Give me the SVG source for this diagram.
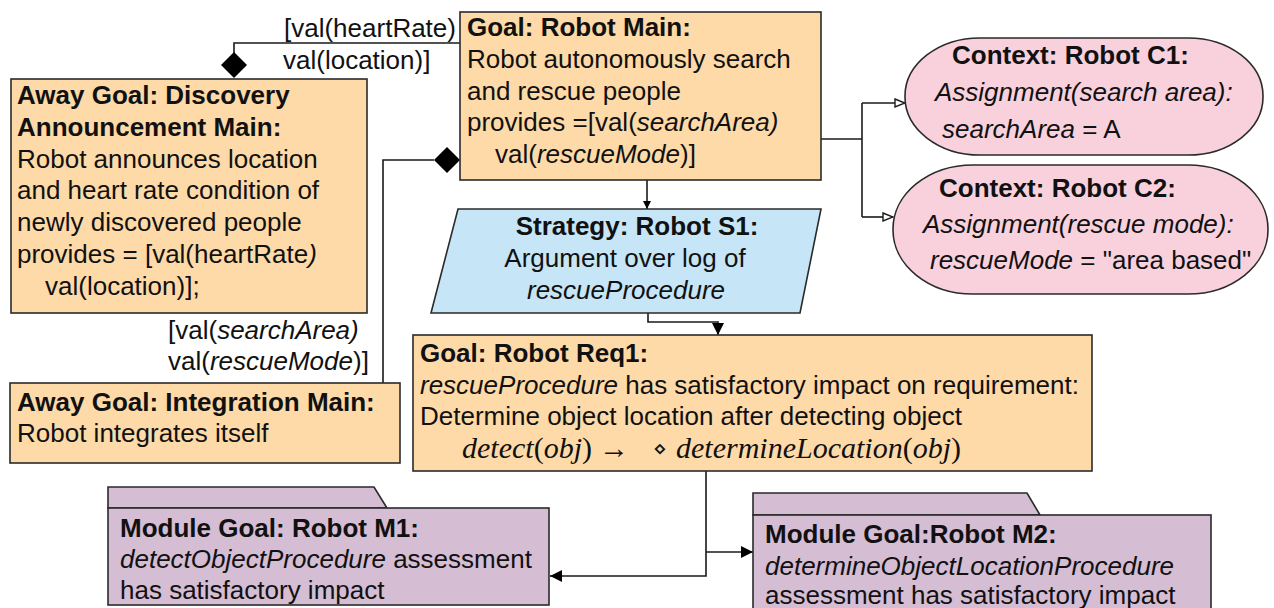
<svg xmlns="http://www.w3.org/2000/svg" width="1274" height="608" viewBox="0 0 1274 608">
<style>
text{font-family:"Liberation Sans",Arial,sans-serif;font-size:26px;fill:#111}
text.mt{font-size:30px}
.b{font-weight:bold}
.i{font-style:italic}
.m{font-family:"Liberation Serif","Times New Roman",serif;font-style:italic}
.r{font-family:"Liberation Serif","Times New Roman",serif}
.goal{fill:#FDDAA8;stroke:#2a2a2a;stroke-width:1.6}
.ctx{fill:#F8D1DD;stroke:#2a2a2a;stroke-width:1.6}
.str{fill:#C6E5F6;stroke:#2a2a2a;stroke-width:1.6}
.mod{fill:#D5BDD4;stroke:#2a2a2a;stroke-width:1.6}
.ln{fill:none;stroke:#1a1a1a;stroke-width:1.6}
.dia{fill:#000}
</style>
<defs>
<marker id="af" viewBox="0 0 10 10" refX="10" refY="5" markerWidth="8" markerHeight="8" markerUnits="userSpaceOnUse" orient="auto">
<path d="M0,0 L10,5 L0,10 z" fill="#000"/>
</marker>
<marker id="afs" viewBox="0 0 10 10" refX="10" refY="5" markerWidth="12" markerHeight="12" markerUnits="userSpaceOnUse" orient="auto">
<path d="M0,0 L10,5 L0,10 z" fill="#000"/>
</marker>
<marker id="ah" viewBox="0 0 12 10" refX="11" refY="5" markerWidth="12" markerHeight="10" markerUnits="userSpaceOnUse" orient="auto">
<path d="M1,1 L11,5 L1,9 z" fill="#fff" stroke="#1a1a1a" stroke-width="1.4"/>
</marker>
</defs>

<g id="connectors">
<polyline class="ln" points="234,53 234,43 460,43"/>
<polygon class="dia" points="234,52 247,65 234,78 221,65"/>
<polyline class="ln" points="434,160 383,160 383,383"/>
<polygon class="dia" points="447,147 460,160 447,173 434,160"/>
<line class="ln" x1="647" y1="180" x2="647" y2="209" marker-end="url(#af)"/>
<polyline class="ln" points="648,313 648,322 718,322 718,335" marker-end="url(#afs)"/>
<polyline class="ln" points="821,139 862,139"/>
<polyline class="ln" points="862,103 862,217"/>
<line class="ln" x1="862" y1="103" x2="905" y2="103" marker-end="url(#ah)"/>
<line class="ln" x1="862" y1="217" x2="893" y2="217" marker-end="url(#ah)"/>
<polyline class="ln" points="706,471 706,576 550,576" marker-end="url(#afs)"/>
<line class="ln" x1="706" y1="552" x2="753" y2="552" marker-end="url(#afs)"/>
<text x="284" y="37">[val(heartRate)</text>
<text x="283" y="69">val(location)]</text>
<text x="168" y="339">[val(<tspan class="i">searchArea)</tspan></text>
<text x="168" y="370">val(<tspan class="i">rescueMode</tspan>)]</text>
</g>

<g id="goal-main">
<rect class="goal" x="460" y="12" width="361" height="168"/>
<text class="b" x="467" y="36">Goal: Robot Main:</text>
<text x="467" y="68">Robot autonomously search</text>
<text x="467" y="100">and rescue people</text>
<text x="467" y="131">provides =[val(<tspan class="i">searchArea)</tspan></text>
<text x="495" y="163">val(<tspan class="i">rescueMode</tspan>)]</text>
</g>

<g id="away-discovery">
<rect class="goal" x="11" y="79" width="356" height="234"/>
<text class="b" x="17" y="104">Away Goal: Discovery</text>
<text class="b" x="17" y="136">Announcement Main:</text>
<text x="17" y="168">Robot announces location</text>
<text x="17" y="199">and heart rate condition of</text>
<text x="17" y="231">newly discovered people</text>
<text x="17" y="263">provides = [val(heartRate<tspan class="i">)</tspan></text>
<text x="45" y="295">val(location)];</text>
</g>

<g id="away-integration">
<rect class="goal" x="10" y="383" width="390" height="80"/>
<text class="b" x="17" y="411">Away Goal: Integration Main:</text>
<text x="17" y="442">Robot integrates itself</text>
</g>

<g id="context-c1">
<rect class="ctx" x="905" y="38" width="358" height="117" rx="75" ry="58"/>
<text class="b" x="952" y="64">Context: Robot C1:</text>
<text class="i" x="935" y="101">Assignment(search area):</text>
<text x="942" y="138"><tspan class="i">searchArea</tspan> = A</text>
</g>

<g id="context-c2">
<rect class="ctx" x="893" y="165" width="375" height="129" rx="80" ry="64"/>
<text class="b" x="939" y="197">Context: Robot C2:</text>
<text class="i" x="923" y="233">Assignment(rescue mode):</text>
<text x="930" y="269"><tspan class="i">rescueMode</tspan> = "area based"</text>
</g>

<g id="strategy-s1">
<polygon class="str" points="458,209 821,209 800,313 431,313"/>
<text class="b" x="637" y="235" text-anchor="middle">Strategy: Robot S1:</text>
<text x="625" y="267" text-anchor="middle">Argument over log of</text>
<text class="i" x="626" y="299" text-anchor="middle">rescueProcedure</text>
</g>

<g id="goal-req1">
<rect class="goal" x="413" y="335" width="679" height="136"/>
<text class="b" x="420" y="362">Goal: Robot Req1:</text>
<text x="420" y="394"><tspan class="i">rescueProcedure</tspan> has satisfactory impact on requirement:</text>
<text x="420" y="425">Determine object location after detecting object</text>
<text class="mt" x="462" y="458"><tspan class="m">detect</tspan><tspan class="r">(</tspan><tspan class="m">obj</tspan><tspan class="r">)</tspan><tspan x="599" class="r">→</tspan><tspan x="653" y="456" font-family="DejaVu Sans" font-size="22">⋄</tspan><tspan x="676" y="458" class="m">determineLocation</tspan><tspan class="r">(</tspan><tspan class="m">obj</tspan><tspan class="r">)</tspan></text>
</g>

<g id="module-m1">
<polygon class="mod" points="108,508 108,487 374,487 387,508"/>
<rect class="mod" x="108" y="508" width="441" height="97"/>
<text class="b" x="120" y="537">Module Goal: Robot M1:</text>
<text x="120" y="568"><tspan class="i">detectObjectProcedure</tspan> assessment</text>
<text x="120" y="599">has satisfactory impact</text>
</g>

<g id="module-m2">
<polygon class="mod" points="753,515 753,493 1027,493 1040,515"/>
<rect class="mod" x="753" y="515" width="458" height="100"/>
<text class="b" x="765" y="543">Module Goal:Robot M2:</text>
<text class="i" x="765" y="575">determineObjectLocationProcedure</text>
<text x="765" y="604">assessment has satisfactory impact</text>
</g>
</svg>
